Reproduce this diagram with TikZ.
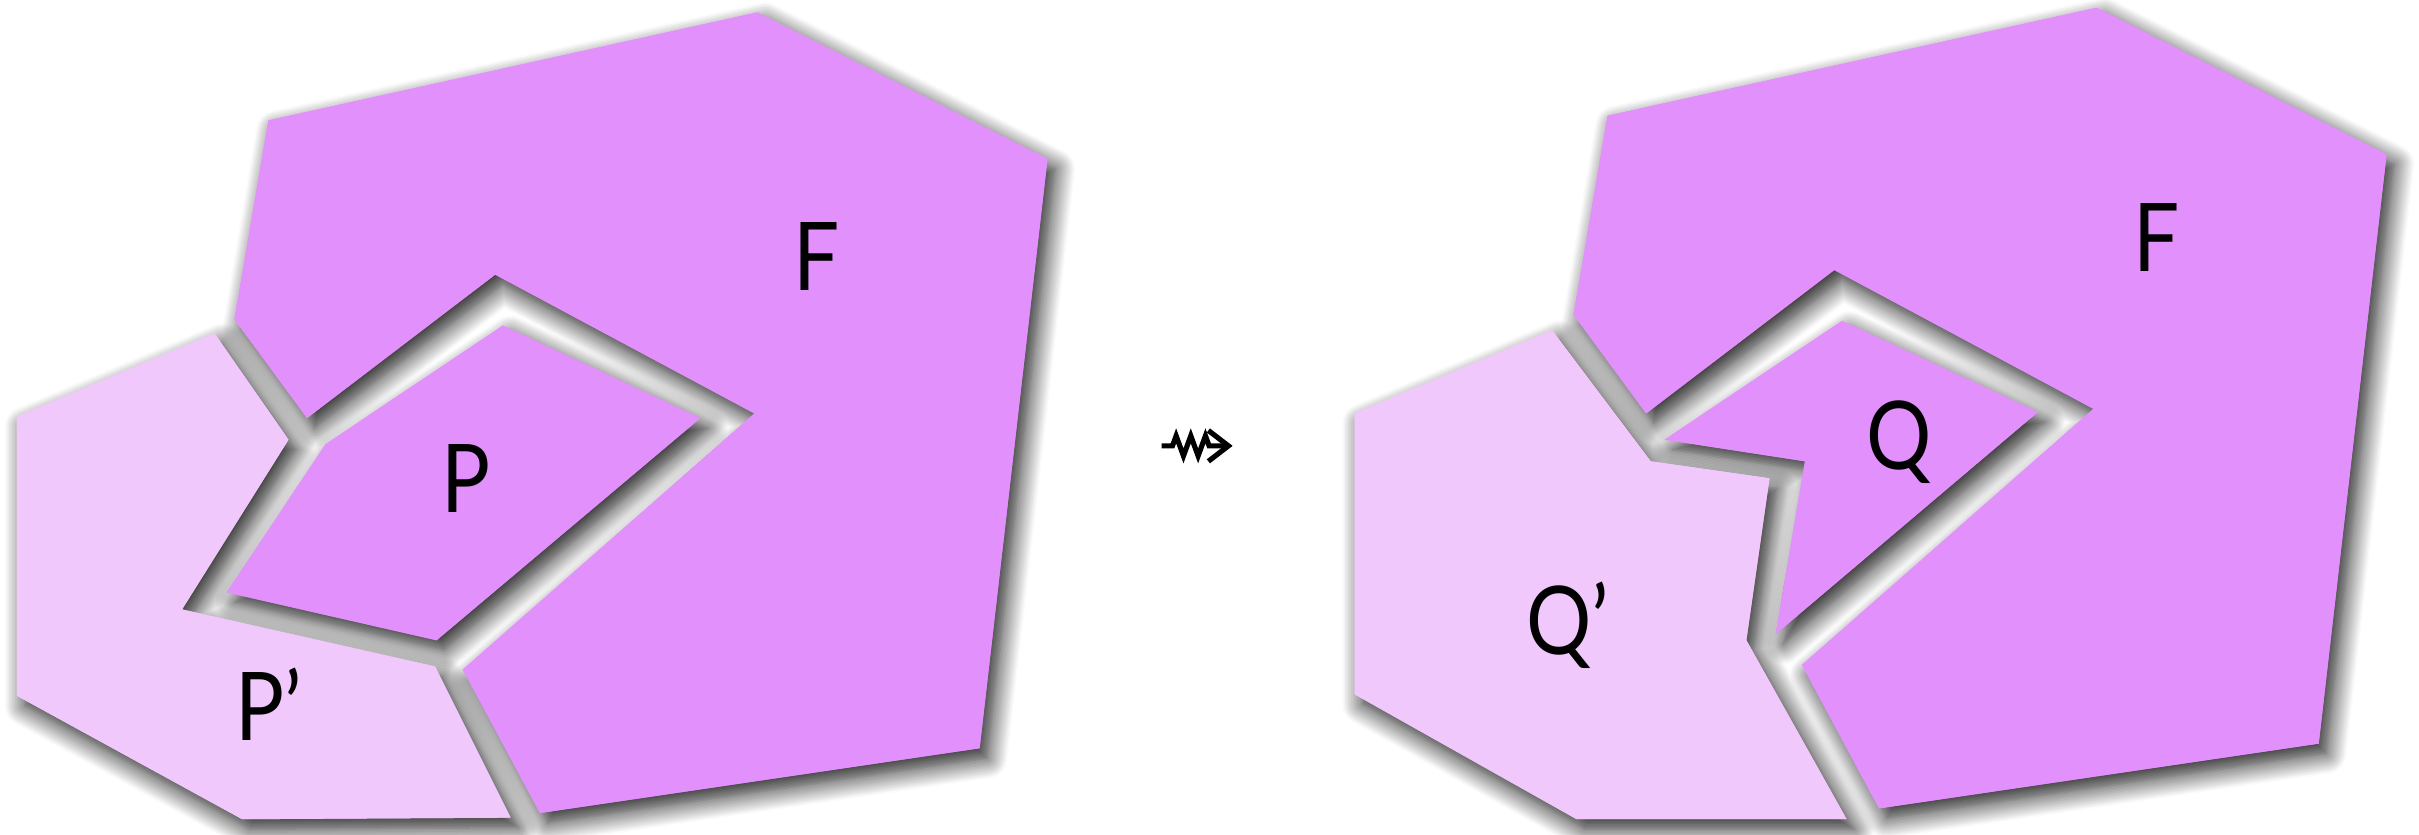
\documentclass[tikz,border=0pt]{standalone}
\usepackage{fontspec}
\setmainfont{Lato}[FakeStretch=0.86]
\usetikzlibrary{arrows.meta,decorations.pathmorphing,shadows.blur}
\definecolor{FaceDark}{HTML}{E290FC}
\definecolor{FaceLight}{HTML}{F0C8FC}

% outlines (units: pixels of the figure, y downwards)
\def\polyFa{(174,78) -- (491,8) -- (679,103) -- (635,485) -- (350,527) -- (300,434) -- (489,268) -- (321,178) -- (199,271) -- (152,207) -- cycle}
\def\polyP{(211,288) -- (326,211) -- (454,271) -- (283,415) -- (147,384) -- cycle}
\def\polyPp{(11,270) -- (139,216) -- (187,285) -- (118,395) -- (282,432) -- (331,530) -- (157,531) -- (11,451) -- cycle}
\def\polyFb{(1042,75) -- (1359,5) -- (1547,100) -- (1503,482) -- (1218,524) -- (1168,431) -- (1357,265) -- (1189,175) -- (1067,268) -- (1020,204) -- cycle}
\def\polyQ{(1079,285) -- (1194,208) -- (1321,267) -- (1151,411) -- (1170,299) -- cycle}
\def\polyQp{(878,268) -- (1006,214) -- (1070,299) -- (1147,310) -- (1132,415) -- (1197,531) -- (1022,531) -- (878,450) -- cycle}

\begin{document}
\begin{tikzpicture}[x=0.1mm, y=-0.1mm,
  cast/.style={blur shadow={shadow xshift=0.5mm, shadow yshift=-0.65mm, shadow blur radius=1.3mm, shadow blur steps=14, shadow opacity=90}},
  facedark/.style={fill=FaceDark},
  facelight/.style={fill=FaceLight},
  lbl/.style={inner sep=0pt, anchor=base, font=\fontsize{17.5}{17.5}\selectfont},
  squig/.style={line width=0.95pt, decorate, decoration={zigzag, segment length=0.95mm, amplitude=0.65mm, pre length=0.7mm, post length=1.3mm}, -{Straight Barb[length=1.3mm, width=2mm]}}
]
\useasboundingbox (0,0) rectangle (1568,541);

% shadows first
\fill[cast, facedark] \polyFa;
\fill[cast, facedark] \polyP;
\fill[cast, facelight] \polyPp;
\fill[cast, facedark] \polyFb;
\fill[cast, facedark] \polyQ;
\fill[cast, facelight] \polyQp;

% faces on top
\fill[facedark] \polyFa;
\fill[facedark] \polyP;
\fill[facelight] \polyPp;
\fill[facedark] \polyFb;
\fill[facedark] \polyQ;
\fill[facelight] \polyQp;

% labels
\node[lbl] (lF1) at (529,188) {F};
\node[lbl] (lP) at (302,332) {P};
\node[lbl] (lPp) at (174,480) {P’};
\node[lbl] (lF2) at (1398,176) {F};
\node[lbl] (lQ) at (1231,304) {Q};
\node[lbl] (lQp) at (1016,424) {Q’};

% the move
\coordinate (mvS) at (753,289);
\coordinate (mvE) at (799,289);
\draw[squig] (mvS) -- (mvE);
\end{tikzpicture}
\end{document}
